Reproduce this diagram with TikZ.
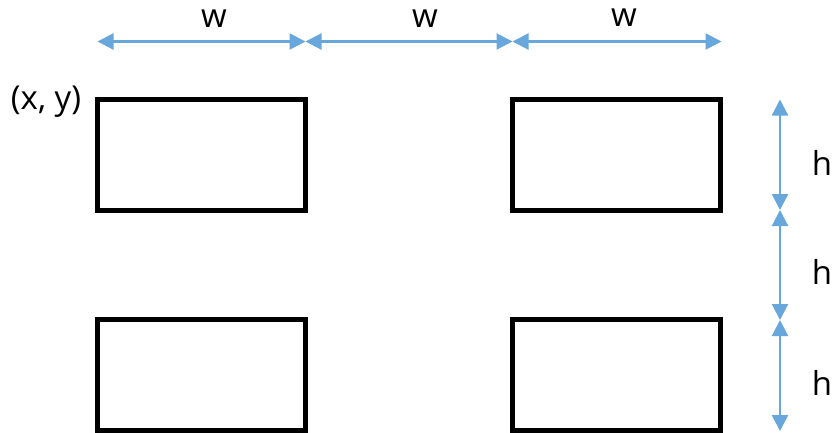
\documentclass[tikz,border=0pt]{standalone}
\usepackage{fontspec}
\setmainfont{Open Sans}
\usetikzlibrary{arrows.meta}
\definecolor{dimblue}{RGB}{103,167,219}
\tikzset{
  cell/.style={draw=black, line width=5.5pt, minimum width=208pt, minimum height=111pt,
    inner sep=0pt, outer sep=0pt, anchor=north west},
  dim/.style={draw=dimblue, line width=2.2pt,
    {Triangle[length=16pt,width=16pt]}-{Triangle[length=16pt,width=16pt]}},
  lbl/.style={font=\fontsize{33}{36}\selectfont, inner sep=0pt}
}
\begin{document}
\begin{tikzpicture}[x=1pt,y=-1pt]
  \useasboundingbox (0,0) rectangle (834,432);
  % the four cells
  \node[cell] (c11) at (97.5,99.5) {};
  \node[cell] (c12) at (512.5,99.5) {};
  \node[cell] (c21) at (97.5,319.5) {};
  \node[cell] (c22) at (512.5,319.5) {};
  % horizontal dimension marks
  \coordinate (w0) at (97.5,41.5);
  \coordinate (w1) at (305.5,41.5);
  \coordinate (w2) at (512.5,41.5);
  \coordinate (w3) at (721.5,41.5);
  \draw[dim] (w0) -- (w1);
  \draw[dim] (w1) -- (w2);
  \draw[dim] (w2) -- (w3);
  \node[lbl] (lw1) at (214,19) {w};
  \node[lbl] (lw2) at (425,19) {w};
  \node[lbl] (lw3) at (624,18) {w};
  % vertical dimension marks
  \coordinate (h0) at (780,99.5);
  \coordinate (h1) at (780,210);
  \coordinate (h2) at (780,320);
  \coordinate (h3) at (780,431);
  \draw[dim] (h0) -- (h1);
  \draw[dim] (h1) -- (h2);
  \draw[dim] (h2) -- (h3);
  \node[lbl] (lh1) at (822,163) {h};
  \node[lbl] (lh2) at (822,272) {h};
  \node[lbl] (lh3) at (822,383) {h};
  % origin label
  \node[lbl] (org) at (46,102) {(x, y)};
\end{tikzpicture}
\end{document}
